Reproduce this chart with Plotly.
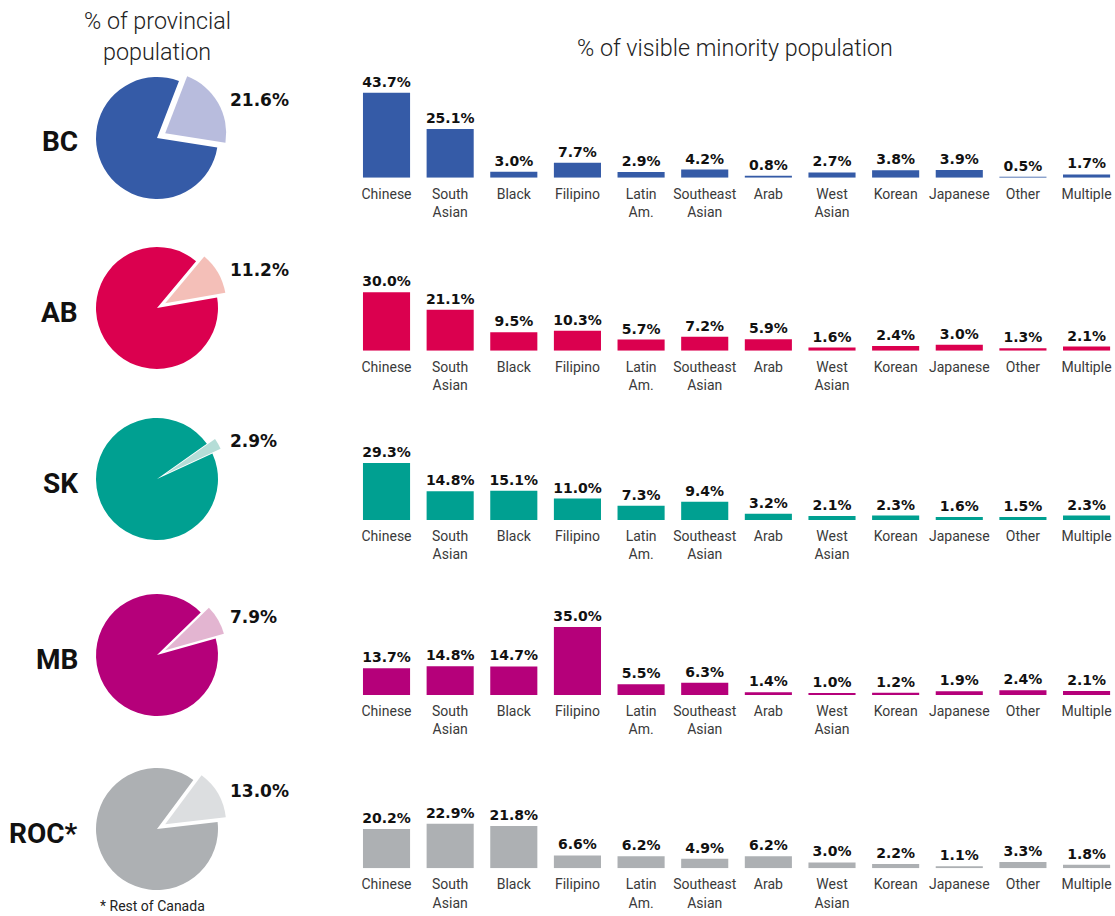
import plotly.graph_objects as go

# ---------------- data ----------------
PROVINCES = ["BC", "AB", "SK", "MB", "ROC*"]
VM_SHARE = [21.6, 11.2, 2.9, 7.9, 13.0]  # % of provincial population

CATEGORIES = ["Chinese", "South Asian", "Black", "Filipino", "Latin Am.",
              "Southeast Asian", "Arab", "West Asian", "Korean", "Japanese",
              "Other", "Multiple"]
CATEGORY_LABELS = ["Chinese", "South<br>Asian", "Black", "Filipino", "Latin<br>Am.",
                   "Southeast<br>Asian", "Arab", "West<br>Asian", "Korean", "Japanese",
                   "Other", "Multiple"]

BC_VALUES = [43.7, 25.1, 3.0, 7.7, 2.9, 4.2, 0.8, 2.7, 3.8, 3.9, 0.5, 1.7]
AB_VALUES = [30.0, 21.1, 9.5, 10.3, 5.7, 7.2, 5.9, 1.6, 2.4, 3.0, 1.3, 2.1]
SK_VALUES = [29.3, 14.8, 15.1, 11.0, 7.3, 9.4, 3.2, 2.1, 2.3, 1.6, 1.5, 2.3]
MB_VALUES = [13.7, 14.8, 14.7, 35.0, 5.5, 6.3, 1.4, 1.0, 1.2, 1.9, 2.4, 2.1]
ROC_VALUES = [20.2, 22.9, 21.8, 6.6, 6.2, 4.9, 6.2, 3.0, 2.2, 1.1, 3.3, 1.8]
ROWS = [BC_VALUES, AB_VALUES, SK_VALUES, MB_VALUES, ROC_VALUES]

MAIN_COLORS = ["#355BA7", "#DB004F", "#00A091", "#B5007A", "#ADB0B3"]
LIGHT_COLORS = ["#B8BCDD", "#F4BFB8", "#B5DDD7", "#E3B5D1", "#DCDEE0"]

# ---------------- layout constants (pixels) ----------------
W, H = 1115, 916
PIE_CX = 157
PIE_CY = [138, 308, 479, 655, 829]
PIE_R = 61
PULL = 0.155
SLICE_MID_ANGLE = 60

BASELINES = [177.7, 350.7, 520.0, 695.0, 868.3]
PX_PER_PCT = 1.945
BAR_LEFT = 354.7
CAT_STEP = 63.64
PANEL_H = 110

TEXT_COLOR = "#222222"
LIGHT_FONT = "Roboto"
BOLD_FONT = "DejaVu Sans"


def px(x):
    return x / W


def py(y):
    return 1 - y / H


fig = go.Figure()
layout_axes = {}
annotations = []

for i, (prov, share, vals) in enumerate(zip(PROVINCES, VM_SHARE, ROWS)):
    # ---- pie ----
    half = PIE_R * (1 + PULL)
    fig.add_trace(go.Pie(
        values=[share, 100 - share],
        labels=["Visible minority", "Other"],
        sort=False,
        direction="clockwise",
        rotation=SLICE_MID_ANGLE - share * 3.6 / 2,
        pull=[PULL, 0],
        marker=dict(colors=[LIGHT_COLORS[i], MAIN_COLORS[i]], line=dict(width=0)),
        textinfo="none",
        showlegend=False,
        domain=dict(x=[px(PIE_CX - half), px(PIE_CX + half)],
                    y=[py(PIE_CY[i] + half), py(PIE_CY[i] - half)]),
    ))
    # pie label
    annotations.append(dict(
        x=px(PIE_CX + 71), y=py(PIE_CY[i] - 38), xref="paper", yref="paper",
        text=f"{share:.1f}%", showarrow=False, xanchor="left", yanchor="middle",
        font=dict(family=BOLD_FONT, size=17, color="#111", weight="bold"),
    ))
    # province label
    annotations.append(dict(
        x=px(80), y=py(PIE_CY[i] + 4), xref="paper", yref="paper",
        text=prov, showarrow=False, xanchor="right", yanchor="middle",
        font=dict(family="Roboto", size=28, color="#111", weight="bold"),
    ))

    # ---- bars ----
    n = i + 1
    xa = "x" if n == 1 else f"x{n}"
    ya = "y" if n == 1 else f"y{n}"
    fig.add_trace(go.Bar(
        x=CATEGORIES, y=vals,
        xaxis=xa, yaxis=ya,
        width=0.74,
        marker=dict(color=MAIN_COLORS[i], line=dict(width=0)),
        text=[f"{v:.1f}%" for v in vals],
        textposition="outside",
        constraintext="none",
        textangle=0,
        outsidetextfont=dict(family=BOLD_FONT, size=14, color="#111", weight="bold"),
        cliponaxis=False,
        showlegend=False,
    ))
    right_idx = -0.5 + (W - BAR_LEFT) / CAT_STEP
    layout_axes["xaxis" if n == 1 else f"xaxis{n}"] = dict(
        domain=[px(BAR_LEFT), 1.0],
        anchor=ya,
        type="category",
        categoryorder="array",
        categoryarray=CATEGORIES,
        range=[-0.5, right_idx],
        tickmode="array",
        tickvals=CATEGORIES,
        ticktext=CATEGORY_LABELS,
        ticks="",
        showline=False,
        showgrid=False,
        zeroline=False,
        tickfont=dict(family=LIGHT_FONT, size=14, color="#3a3a3a", weight=400),
        ticklabelstandoff=6,
        fixedrange=True,
    )
    layout_axes["yaxis" if n == 1 else f"yaxis{n}"] = dict(
        domain=[py(BASELINES[i]), py(BASELINES[i] - PANEL_H)],
        anchor=xa,
        range=[0, PANEL_H / PX_PER_PCT],
        visible=False,
        showgrid=False,
        zeroline=False,
        fixedrange=True,
    )

# titles and footnote
annotations += [
    dict(x=px(157), y=py(21), xref="paper", yref="paper", text="% of provincial",
         showarrow=False, xanchor="center", yanchor="middle",
         font=dict(family=LIGHT_FONT, size=23.3, color=TEXT_COLOR, weight=300)),
    dict(x=px(157), y=py(52), xref="paper", yref="paper", text="population",
         showarrow=False, xanchor="center", yanchor="middle",
         font=dict(family=LIGHT_FONT, size=23.3, color=TEXT_COLOR, weight=300)),
    dict(x=px(735), y=py(48), xref="paper", yref="paper",
         text="% of visible minority population",
         showarrow=False, xanchor="center", yanchor="middle",
         font=dict(family=LIGHT_FONT, size=23.3, color=TEXT_COLOR, weight=300)),
    dict(x=px(152), y=py(906), xref="paper", yref="paper", text="* Rest of Canada",
         showarrow=False, xanchor="center", yanchor="middle",
         font=dict(family=LIGHT_FONT, size=14, color=TEXT_COLOR, weight=400)),
]

fig.update_layout(
    width=W, height=H,
    margin=dict(l=0, r=0, t=0, b=0),
    paper_bgcolor="white",
    plot_bgcolor="white",
    bargap=0.26,
    annotations=annotations,
    **layout_axes,
)

fig.write_html(
    "out.html",
    config={"displayModeBar": False},
    post_script="document.body.style.margin='0';document.body.style.overflow='hidden';",
)
